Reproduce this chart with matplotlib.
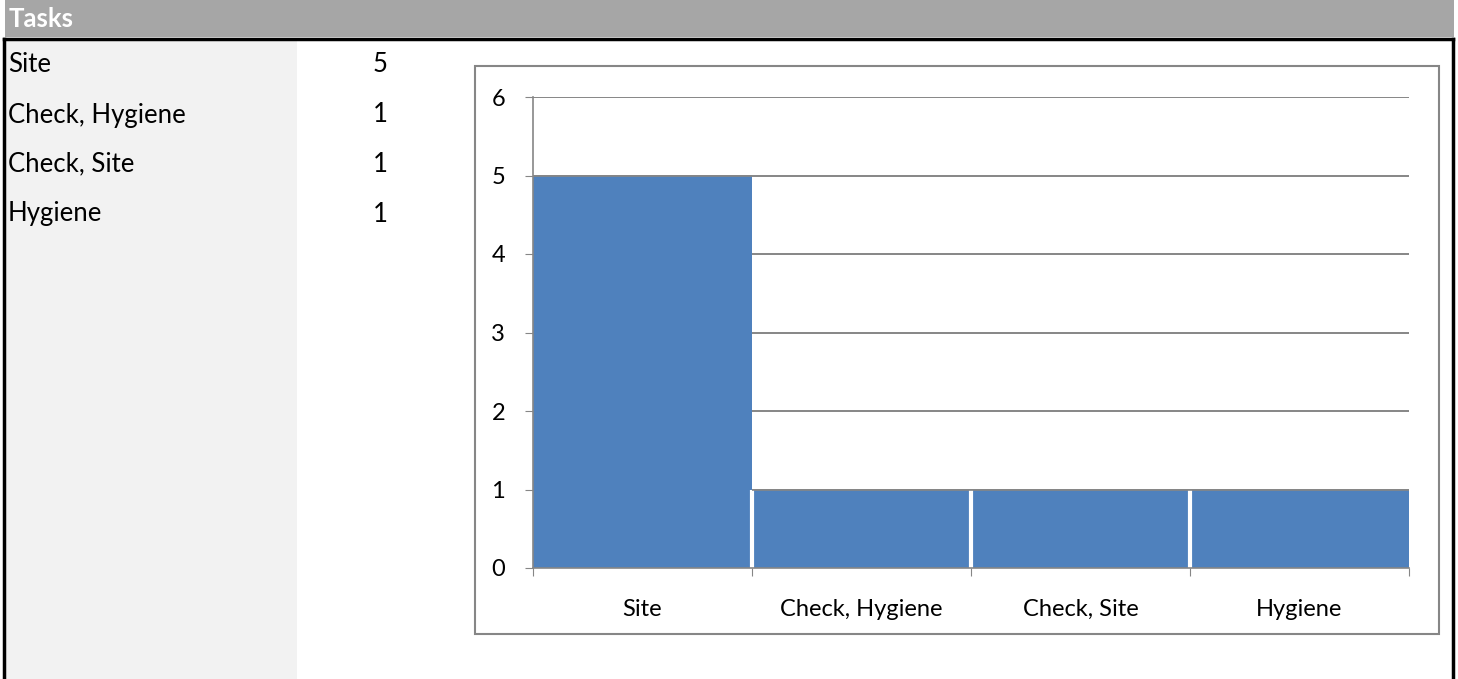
import numpy as np
import matplotlib.pyplot as plt
from matplotlib.patches import Rectangle

# table / chart data
categories = ["Site", "Check, Hygiene", "Check, Site", "Hygiene"]
counts = [5, 1, 1, 1]
y_ticks = [0, 1, 2, 3, 4, 5, 6]

W, H = 1458, 679
plt.rcParams['font.family'] = ['Lato', 'DejaVu Sans']

fig = plt.figure(figsize=(W / 100, H / 100), dpi=100)

def fx(px):
    return px / W

def fy(py):
    return 1 - py / H

# header band
fig.patches.append(Rectangle((fx(5), fy(37)), fx(1449), 37 / H, transform=fig.transFigure,
                             facecolor="#a6a6a6", edgecolor="none", zorder=0))
fig.text(fx(9), fy(19), "Tasks", color="white", fontweight="bold", fontsize=18.5,
         va="center", ha="left")

# left grey panel
fig.patches.append(Rectangle((fx(6), 0), fx(291), fy(40), transform=fig.transFigure,
                             facecolor="#f2f2f2", edgecolor="none", zorder=0))

# black frame (top, left, right)
fig.add_artist(plt.Line2D([fx(4), fx(1453)], [fy(39), fy(39)], color="black", lw=2.5,
                          transform=fig.transFigure))
fig.add_artist(plt.Line2D([fx(4), fx(4)], [fy(39), 0], color="black", lw=2.5,
                          transform=fig.transFigure))
fig.add_artist(plt.Line2D([fx(1453), fx(1453)], [fy(39), 0], color="black", lw=2.5,
                          transform=fig.transFigure))

# table rows
row_y = [64, 115, 164, 214]
for name, val, ry in zip(categories, counts, row_y):
    fig.text(fx(8), fy(ry), name, fontsize=18.5, va="center", ha="left", color="black")
    fig.text(fx(380), fy(ry), str(val), fontsize=18.5, va="center", ha="center", color="black")

# chart box
fig.patches.append(Rectangle((fx(475), fy(634)), fx(1439 - 475), (634 - 66) / H,
                             transform=fig.transFigure, facecolor="white",
                             edgecolor="#868686", lw=1.5, zorder=1))

ax = fig.add_axes([fx(533), fy(568), fx(1409 - 533), (568 - 97) / H])
ax.set_zorder(2)
ax.patch.set_alpha(0)

x = np.arange(len(categories))
ax.bar(x, counts, width=1.0, color="#4f81bd", edgecolor="none", zorder=2)
# white separators between adjacent bars
for i in range(len(counts) - 1):
    ax.vlines(i + 0.5, 0, min(counts[i], counts[i + 1]), color="white", lw=3, zorder=3)

ax.set_xlim(-0.5, len(categories) - 0.5)
ax.set_ylim(0, 6)
ax.set_yticks(y_ticks)
# grid lines that are not hidden behind bars
for yv in y_ticks[1:]:
    ax.axhline(yv, color="#868686", lw=1.2, zorder=1)
    ax.hlines(yv, -0.5, len(categories) - 0.5, color="#868686", lw=1.2, zorder=1)
for yv in y_ticks[1:]:
    for i, c in enumerate(counts):
        if c == yv:
            ax.hlines(yv, i - 0.5, i + 0.5, color="#868686", lw=1.2, zorder=4)

ax.set_xticks(np.arange(len(categories) + 1) - 0.5)
ax.set_xticklabels([])
ax.set_xticks(x, minor=True)
ax.set_xticklabels(categories, minor=True, fontsize=17)
ax.tick_params(axis="x", which="minor", length=0, pad=22)
ax.tick_params(axis="x", which="major", length=6, color="#868686", direction="out")
ax.tick_params(axis="y", length=6, color="#868686", direction="out", labelsize=17, pad=14)

for s in ["top", "right"]:
    ax.spines[s].set_visible(False)
ax.spines["left"].set_color("#868686")
ax.spines["bottom"].set_color("#868686")
ax.spines["left"].set_linewidth(1.2)
ax.spines["bottom"].set_linewidth(1.2)
ax.spines["left"].set_zorder(5)
ax.spines["bottom"].set_zorder(5)

fig.savefig("out.png", dpi=100)
